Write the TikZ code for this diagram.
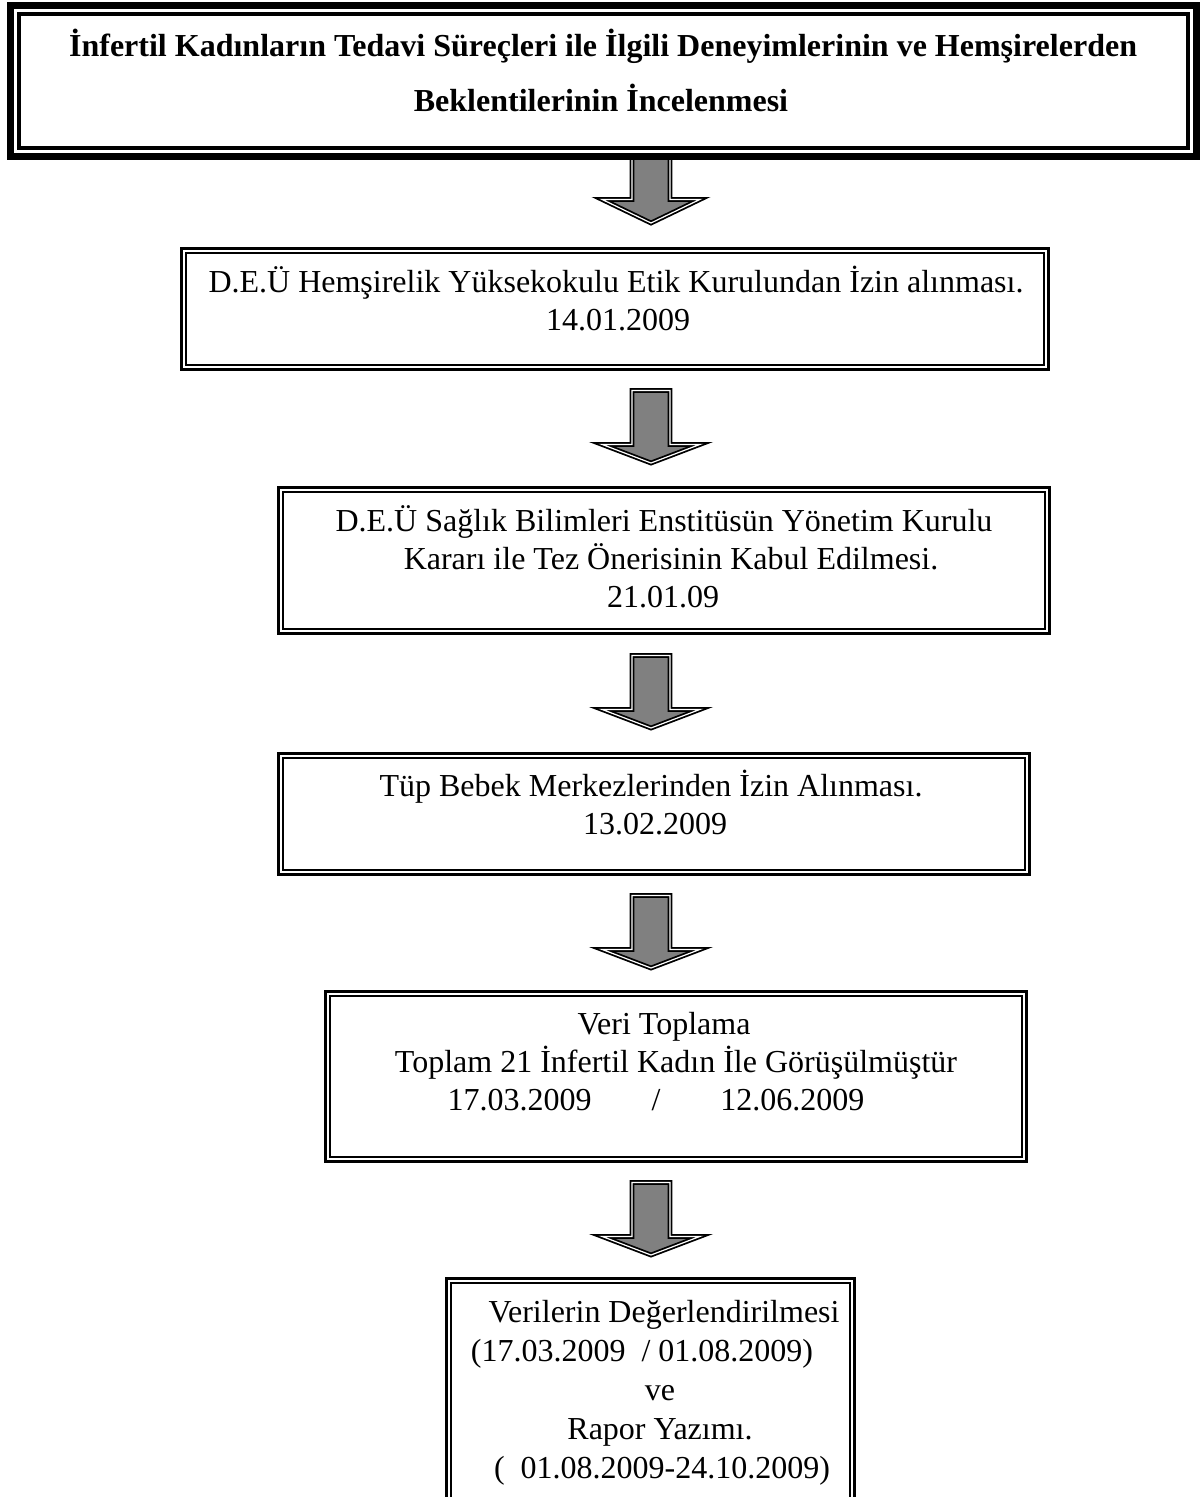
\documentclass[tikz,border=0pt]{standalone}
\usepackage{fontspec}
\setmainfont{Liberation Serif}
\usetikzlibrary{fit}
\tikzset{
  dbox/.style={draw, line width=2.6pt, double=white, double distance=2pt, rectangle, inner sep=0pt},
  tbox/.style={draw, line width=4.5pt, rectangle, inner sep=0pt},
  txt/.style={anchor=base, inner sep=0pt, font=\fontsize{32}{38}\selectfont},
  ttl/.style={anchor=base, inner sep=0pt, font=\bfseries\fontsize{32}{38}\selectfont},
  barrow/.style={fill=black!50, draw=black, line width=1.8pt, double=white, double distance=1.2pt, line join=miter}
}
% block arrow: #1 top, #2 head top, #3 tip (outer measurements), centre x = 651
\newcommand\myblockarrow[3]{%
  \draw[barrow] (651-19,#1+2.4) -- (651+19,#1+2.4) -- (651+19,#2+2.4) -- (651+49,#2+2.4)
    -- (651,#3-5) -- (651-49,#2+2.4) -- (651-19,#2+2.4) -- cycle;}
\begin{document}
\begin{tikzpicture}[x=1pt,y=-1pt]
\useasboundingbox[fill=white] (0,0) rectangle (1202,1497);

% arrows
\myblockarrow{155}{197}{228}
\myblockarrow{388}{442}{468}
\myblockarrow{653}{707}{733}
\myblockarrow{893}{947}{973}
\myblockarrow{1180}{1234}{1260}

% title box (triple border)
\coordinate (ta) at (9.3,4.3);
\coordinate (tb) at (1197.7,157.7);
\node[tbox, fit=(ta)(tb)] (title) {};
\draw[line width=2.6pt] ([shift={(6,6)}]title.north west) rectangle ([shift={(-6,-6)}]title.south east);
\draw[line width=3.2pt] ([shift={(12,12)}]title.north west) rectangle ([shift={(-12,-12)}]title.south east);
\node[ttl] (t1) at (603,56) {İnfertil Kadınların Tedavi Süreçleri ile İlgili Deneyimlerinin ve Hemşirelerden};
\node[ttl] (t2) at (601,111) {Beklentilerinin İncelenmesi};

% box 1
\coordinate (b1a) at (183.6,250.6);
\coordinate (b1b) at (1046.4,367.4);
\node[dbox, fit=(b1a)(b1b)] (b1) {};
\node[txt] (b1l1) at (616,292) {D.E.Ü Hemşirelik Yüksekokulu Etik Kurulundan İzin alınması.};
\node[txt] (b1l2) at (618,330) {14.01.2009};

% box 2
\coordinate (b2a) at (280.6,489.6);
\coordinate (b2b) at (1047.4,631.4);
\node[dbox, fit=(b2a)(b2b)] (b2) {};
\node[txt] (b2l1) at (664,531) {D.E.Ü Sağlık Bilimleri Enstitüsün Yönetim Kurulu};
\node[txt] (b2l2) at (671,569) {Kararı ile Tez Önerisinin Kabul Edilmesi.};
\node[txt] (b2l3) at (663,607) {21.01.09};

% box 3
\coordinate (b3a) at (280.6,755.6);
\coordinate (b3b) at (1027.4,872.4);
\node[dbox, fit=(b3a)(b3b)] (b3) {};
\node[txt] (b3l1) at (651,796) {Tüp Bebek Merkezlerinden İzin Alınması.};
\node[txt] (b3l2) at (655,834) {13.02.2009};

% box 4
\coordinate (b4a) at (327.6,993.6);
\coordinate (b4b) at (1024.4,1159.4);
\node[dbox, fit=(b4a)(b4b)] (b4) {};
\node[txt] (b4l1) at (664,1034) {Veri Toplama};
\node[txt] (b4l2) at (676,1072) {Toplam 21 İnfertil Kadın İle Görüşülmüştür};
\node[txt] (b4l3) at (656,1110) {17.03.2009\hspace*{60pt}/\hspace*{60pt}12.06.2009};

% box 5
\coordinate (b5a) at (448.6,1280.6);
\coordinate (b5b) at (852.4,1520);
\node[dbox, fit=(b5a)(b5b)] (b5) {};
\node[txt] (b5l1) at (664,1322) {Verilerin Değerlendirilmesi};
\node[txt] (b5l2) at (642,1361) {(17.03.2009\ \ / 01.08.2009)};
\node[txt] (b5l3) at (660,1400) {ve};
\node[txt] (b5l4) at (660,1439) {Rapor Yazımı.};
\node[txt] (b5l5) at (662,1478) {(\ \ 01.08.2009-24.10.2009)};
\end{tikzpicture}
\end{document}
